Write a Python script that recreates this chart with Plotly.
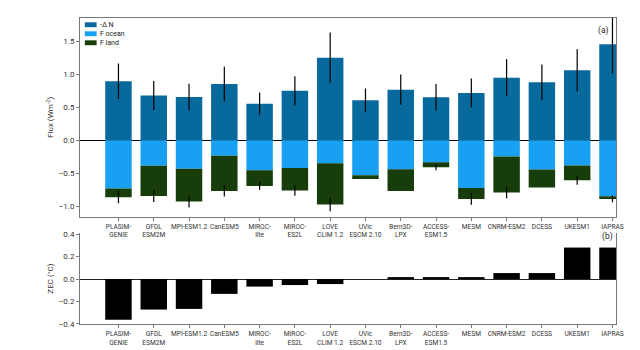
import plotly.graph_objects as go

models = ["PLASIM-<br>GENIE", "GFDL<br>ESM2M", "MPI-ESM1.2", "CanESM5", "MIROC-<br>lite",
          "MIROC-<br>ES2L", "LOVE<br>CLIM 1.2", "UVic<br>ESCM 2.10", "Bern3D-<br>LPX",
          "ACCESS-<br>ESM1.5", "MESM", "CNRM-ESM2", "DCESS", "UKESM1", "IAPRAS"]

neg_dN = [0.894, 0.68, 0.656, 0.853, 0.555, 0.752, 1.252, 0.606, 0.767, 0.651, 0.717, 0.949, 0.879, 1.06, 1.455]
neg_dN_err = [0.27, 0.22, 0.20, 0.26, 0.17, 0.22, 0.38, 0.18, 0.23, 0.20, 0.22, 0.28, 0.27, 0.32, 0.44]
F_ocean = [-0.733, -0.385, -0.43, -0.233, -0.455, -0.42, -0.349, -0.53, -0.44, -0.333, -0.723, -0.248, -0.445, -0.384, -0.849]
F_land = [-0.131, -0.459, -0.50, -0.535, -0.237, -0.343, -0.626, -0.056, -0.328, -0.076, -0.166, -0.545, -0.272, -0.222, -0.04]
F_total_err = [0.09, 0.09, 0.09, 0.085, 0.06, 0.077, 0.10, 0.0, 0.0, 0.045, 0.09, 0.085, 0.0, 0.07, 0.05]
ZEC = [-0.365, -0.273, -0.267, -0.133, -0.068, -0.054, -0.045, 0.0, 0.012, 0.01, 0.012, 0.053, 0.053, 0.281, 0.281]

series_names = ["-Δ N", "F ocean", "F land"]
series_colors = ["#08699c", "#18a0f2", "#163d0a"]

x = list(range(len(models)))
F_sum = [o + l for o, l in zip(F_ocean, F_land)]

FONT = "Roboto, Liberation Sans, sans-serif"

fig = go.Figure()
fig.add_trace(go.Bar(x=x, y=neg_dN, marker_color=series_colors[0], width=0.75,
                     marker_line_width=0, showlegend=False, xaxis="x", yaxis="y"))
fig.add_trace(go.Bar(x=x, y=F_ocean, marker_color=series_colors[1], width=0.75,
                     marker_line_width=0, showlegend=False, xaxis="x", yaxis="y"))
fig.add_trace(go.Bar(x=x, y=F_land, base=F_ocean, marker_color=series_colors[2], width=0.75,
                     marker_line_width=0, showlegend=False, xaxis="x", yaxis="y"))
# error bars
fig.add_trace(go.Scatter(x=x, y=neg_dN, mode="markers", marker=dict(opacity=0, size=1),
                         error_y=dict(type="data", array=neg_dN_err, color="black", thickness=1.2, width=0),
                         showlegend=False, hoverinfo="skip", xaxis="x", yaxis="y"))
fig.add_trace(go.Scatter(x=x, y=F_sum, mode="markers", marker=dict(opacity=0, size=1),
                         error_y=dict(type="data", array=F_total_err, color="black", thickness=1.2, width=0),
                         showlegend=False, hoverinfo="skip", xaxis="x", yaxis="y"))
# ZEC panel
fig.add_trace(go.Bar(x=x, y=ZEC, marker_color="black", width=0.75, marker_line_width=0,
                     showlegend=False, xaxis="x2", yaxis="y2"))

xaxis_common = dict(linecolor="#777", linewidth=1, ticks="outside", ticklen=3, tickcolor="#777",
                    showgrid=False, tickangle=0, automargin=False,
                    tickfont=dict(family=FONT, size=6.6, color="#333"))
yaxis_common = dict(linecolor="#777", linewidth=1, ticks="outside", ticklen=3, tickcolor="#777",
                    showgrid=False, automargin=False, tickfont=dict(family=FONT, size=8, color="#333"))

fig.update_layout(
    width=640, height=350,
    margin=dict(l=80, r=24, t=18, b=26),
    plot_bgcolor="white", paper_bgcolor="white",
    barmode="overlay",
    font=dict(family=FONT, size=8, color="#333"),
    xaxis=dict(anchor="y", range=[-1.09, 14.1], tickvals=x, ticktext=models,
               showline=True, mirror=True, zeroline=False, **xaxis_common),
    yaxis=dict(domain=[0.351, 1], range=[-1.157, 1.853], tickvals=[-1, -0.5, 0, 0.5, 1, 1.5],
               ticktext=["−1.0", "−0.5", "0.0", "0.5", "1.0", "1.5"],
               showline=True, mirror=True, zeroline=True, zerolinecolor="black", zerolinewidth=1,
               title=dict(text="Flux (Wm<sup>-2</sup>)", font=dict(family=FONT, size=8), standoff=3),
               **yaxis_common),
    xaxis2=dict(anchor="y2", range=[-1.09, 14.1], tickvals=x, ticktext=models,
                showline=True, mirror=False, zeroline=False, **xaxis_common),
    yaxis2=dict(domain=[0, 0.297], range=[-0.402, 0.41], tickvals=[-0.4, -0.2, 0, 0.2, 0.4],
                ticktext=["−0.4", "−0.2", "0.0", "0.2", "0.4"],
                showline=True, mirror=True, zeroline=True, zerolinecolor="#222", zerolinewidth=1,
                title=dict(text="ZEC (°C)", font=dict(family=FONT, size=8), standoff=3),
                **yaxis_common),
)

# compact legend
for i, (name, col) in enumerate(zip(series_names, series_colors)):
    y0 = 0.978 - i * 0.0295
    fig.add_shape(type="rect", xref="paper", yref="paper", x0=0.009, x1=0.031,
                  y0=y0 - 0.008, y1=y0 + 0.008, fillcolor=col, line_width=0)
    fig.add_annotation(xref="paper", yref="paper", x=0.036, y=y0, text=name, showarrow=False,
                       xanchor="left", yanchor="middle", borderpad=0,
                       font=dict(family=FONT, size=7, color="#222"))

fig.add_annotation(xref="paper", yref="paper", x=0.99, y=0.985, text="(a)", showarrow=False,
                   xanchor="right", yanchor="top", font=dict(family=FONT, size=8.5, color="#222"))
fig.add_annotation(xref="paper", yref="paper", x=0.998, y=0.31, text="(b)", showarrow=False,
                   xanchor="right", yanchor="top", font=dict(family=FONT, size=8.5, color="#222"))

fig.write_html("out.html")
